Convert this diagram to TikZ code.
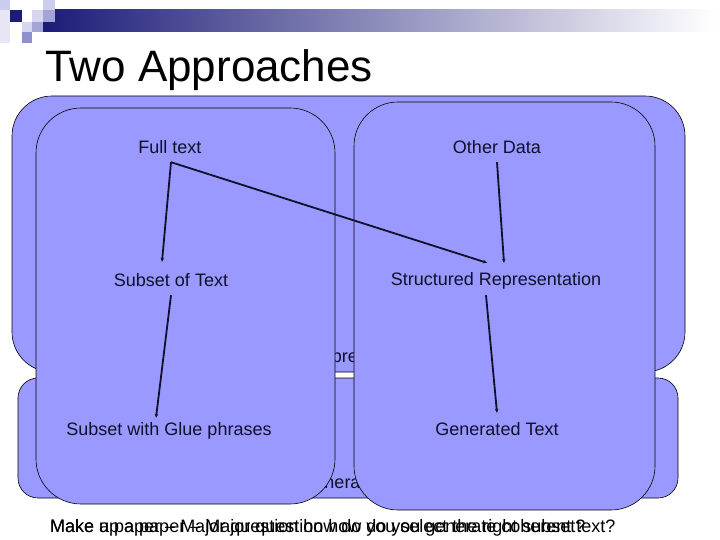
\documentclass[tikz,border=0pt]{standalone}
\usepackage{fontspec}
\setmainfont{Liberation Sans}
\usetikzlibrary{arrows.meta}
\definecolor{boxfill}{HTML}{9999FF}
\definecolor{navybar}{HTML}{1C1C78}
\definecolor{sqA}{HTML}{CCCCEE}
\definecolor{sqB}{HTML}{E6E6F5}
\definecolor{sqC}{HTML}{D6D6F0}
\definecolor{sqD}{HTML}{A4A4D6}
\definecolor{sqE}{HTML}{9090CC}
\definecolor{inktext}{HTML}{10102A}
\begin{document}
\begin{tikzpicture}[x=1bp,y=-1bp,
  panel/.style={draw=black, fill=boxfill, line width=0.6bp},
  lbl/.style={inner sep=0pt, text height=13bp, text depth=4bp, text=inktext, font=\fontsize{18bp}{21bp}\selectfont},
  hidden/.style={inner sep=0pt, anchor=base, text=inktext, font=\fontsize{18bp}{21bp}\selectfont},
  foot/.style={inner sep=0pt, anchor=base west, font=\fontsize{18bp}{21bp}\selectfont},
  arr/.style={line width=1.8bp, draw=inktext, -{Stealth[length=4bp,width=3.5bp]}},
]
\useasboundingbox (0,0) rectangle (720,540);
\fill[white] (0,0) rectangle (720,540);
% header decoration
\shade[left color=navybar, right color=white] (43,10) rectangle (715,32);
\fill[sqA] (0,0) rectangle (10,10);
\fill[sqB] (0,10) rectangle (10,43);
\fill[navybar] (10,10) rectangle (22,22);
\fill[sqA] (43,0) rectangle (55,10);
\fill[sqC] (32,10) rectangle (43,22);
\fill[sqD] (43,10) rectangle (55,22);
\fill[sqC] (22,22) rectangle (32,32);
\fill[sqD] (32,22) rectangle (43,32);
\fill[sqE] (22,32) rectangle (32,43);
\node[inner sep=0pt, anchor=base west, font=\fontsize{44bp}{50bp}\selectfont] (title) at (45,82) {Two Approaches};
% big panels
\draw[panel, rounded corners=40bp] (12,96) rectangle (685,372);
\draw[panel, rounded corners=20bp] (18,378) rectangle (678,498);
\node[hidden] (interp) at (349,362) {Interpretation};
\node[hidden] (gener) at (345,488) {Generation};
% inner panels
\draw[panel, rounded corners=45bp] (36,108) rectangle (335,504);
\draw[panel, rounded corners=44bp] (354,102) rectangle (655,510);
% labels
\node[lbl] (ft) at (170,149) {Full text};
\node[lbl] (od) at (497,149) {Other Data};
\node[lbl] (st) at (171,282) {Subset of Text};
\node[lbl] (sr) at (496,281) {Structured Representation};
\node[lbl] (sg) at (169,431) {Subset with Glue phrases};
\node[lbl] (gt) at (497,431) {Generated Text};
% connectors
\draw[arr] ([xshift=1bp,yshift=-4.5bp]ft.south) -- ([xshift=-9bp,yshift=11.5bp]st.north);
\draw[arr] ([xshift=1bp,yshift=-4.5bp]ft.south) -- ([xshift=-9bp,yshift=9.5bp]sr.north);
\draw[arr] ([yshift=-4.5bp]od.south) -- ([xshift=8bp,yshift=9.5bp]sr.north);
\draw[arr] ([yshift=-4.5bp]st.south) -- ([xshift=-13bp,yshift=4.5bp]sg.north);
\draw[arr] ([xshift=-10bp,yshift=-5.5bp]sr.south) -- ([yshift=9.5bp]gt.north);
% overlapping footer texts (overlap as in the reference)
\node[foot] (footA) at (50,532) {Make a paper – Major question how do you select the right subset?};
\node[foot] (footB) at (50,532) {Make up a paper – Major question how do you generate coherent text?};
\end{tikzpicture}
\end{document}
